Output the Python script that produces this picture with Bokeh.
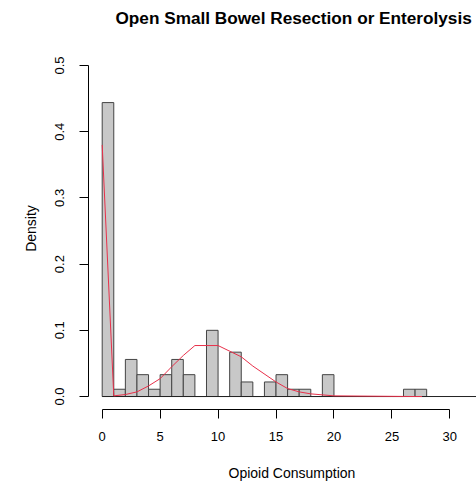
import math
from bokeh.plotting import figure
from bokeh.models import FixedTicker, Range1d, Label, PrintfTickFormatter
from bokeh.embed import file_html
from bokeh.resources import INLINE

# ---- data ----
bin_left = [0, 1, 2, 3, 4, 5, 6, 7, 8, 9, 10, 11, 12, 13, 14, 15, 16, 17, 18, 19,
            20, 21, 22, 23, 24, 25, 26, 27]
bin_right = [1, 2, 3, 4, 5, 6, 7, 8, 9, 10, 11, 12, 13, 14, 15, 16, 17, 18, 19, 20,
             21, 22, 23, 24, 25, 26, 27, 28]
density = [0.444, 0.011, 0.056, 0.033, 0.011, 0.033, 0.056, 0.033, 0.0, 0.100,
           0.0, 0.067, 0.022, 0.0, 0.022, 0.033, 0.011, 0.011, 0.0, 0.033,
           0.0, 0.0, 0.0, 0.0, 0.0, 0.0, 0.011, 0.011]

curve_x = [0, 1, 2, 3, 4, 5, 6, 7, 8, 10, 12, 13, 15, 16, 17, 18, 20, 27, 27.6]
curve_y = [0.38, 0.001, 0.003, 0.007, 0.016, 0.027, 0.045, 0.062, 0.077, 0.077,
           0.060, 0.046, 0.022, 0.012, 0.007, 0.004, 0.001, 0.0, 0.0]

x_ticks = [0, 5, 10, 15, 20, 25, 30]
y_ticks = [0.0, 0.1, 0.2, 0.3, 0.4, 0.5]

title_text = "Open Small Bowel Resection or Enterolysis"
x_label = "Opioid Consumption"
y_label = "Density"

FONT = "Liberation Sans"
W, H = 476, 484

# the plotting frame covers the whole canvas; R-style axes sit at fixed spots
p = figure(width=W, height=H, output_backend="svg", toolbar_location=None,
           x_range=Range1d(-8.775, 32.30), y_range=Range1d(-0.1329, 0.5982),
           min_border_left=0, min_border_right=0, min_border_top=0,
           min_border_bottom=0)
p.outline_line_color = None
p.xgrid.visible = False
p.ygrid.visible = False
p.background_fill_color = "white"
p.border_fill_color = "white"

p.quad(left=bin_left, right=bin_right, bottom=0, top=density,
       fill_color="#C8C8C8", line_color="#444444", line_width=1)
p.line([0, 40], [0, 0], line_color="#222222", line_width=1)
p.line(curve_x, curve_y, line_color="#E8304A", line_width=1)

for ax in (p.xaxis[0], p.yaxis[0]):
    ax.axis_line_color = "black"
    ax.major_tick_line_color = "black"
    ax.minor_tick_line_color = None
    ax.major_tick_out = 9
    ax.major_tick_in = 0
    ax.major_label_text_font = FONT
    ax.major_label_text_font_size = "13px"
    ax.major_label_text_color = "black"
    ax.axis_label = None

p.xaxis.ticker = FixedTicker(ticks=x_ticks)
p.xaxis.bounds = (0, 30)
p.xaxis.fixed_location = -0.02
p.xaxis.major_label_standoff = 13

p.yaxis.ticker = FixedTicker(ticks=y_ticks)
p.yaxis.formatter = PrintfTickFormatter(format="%.1f")
p.yaxis.bounds = (0, 0.5)
p.yaxis.fixed_location = -1.2
p.yaxis.major_label_orientation = "vertical"
p.yaxis.major_label_standoff = 15

# texts (screen units measured from the frame's bottom-left = canvas bottom-left)
p.add_layout(Label(x=115, y=H - 17, x_units="screen", y_units="screen",
                   text=title_text, text_font=FONT, text_font_size="17.2px",
                   text_font_style="bold", text_align="left",
                   text_baseline="alphabetic", text_color="black"))
p.add_layout(Label(x=228, y=H - 472, x_units="screen", y_units="screen",
                   text=x_label, text_font=FONT, text_font_size="14px",
                   text_align="left", text_baseline="alphabetic",
                   text_color="black"))
p.add_layout(Label(x=30, y=H - 228, x_units="screen", y_units="screen",
                   text=y_label, text_font=FONT, text_font_size="14px",
                   angle=math.pi / 2, text_align="center",
                   text_baseline="alphabetic", text_color="black"))

open("out.html", "w").write(file_html(p, INLINE))
